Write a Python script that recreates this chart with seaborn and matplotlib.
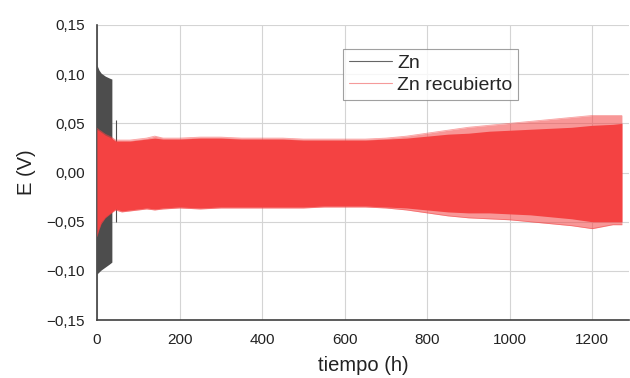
import numpy as np
import pandas as pd
import matplotlib
matplotlib.use("Agg")
import matplotlib.pyplot as plt
from matplotlib.lines import Line2D
from matplotlib.ticker import FuncFormatter
import seaborn as sns

# envelope of the Zn cell (h, V)
zn_t = [0, 5, 10, 20, 30, 36]
zn_hi = [0.109, 0.104, 0.101, 0.098, 0.096, 0.095]
zn_lo = [-0.103, -0.101, -0.099, -0.096, -0.093, -0.091]
# lone spike after the Zn cell stops
zn_spike_t = [46]
zn_spike_hi = [0.053]
zn_spike_lo = [-0.050]

# envelope of the coated Zn cell (outer = frayed edge, core = solid band)
rec_t = [0, 3, 10, 20, 35, 45, 60, 80, 100, 120, 140, 160, 200, 250, 300,
         350, 400, 450, 500, 550, 600, 650, 700, 750, 800, 850, 900, 950,
         1000, 1050, 1100, 1150, 1200, 1250, 1272]
rec_hi = [0.045, 0.044, 0.042, 0.039, 0.036, 0.033, 0.033, 0.033, 0.034,
          0.035, 0.037, 0.035, 0.035, 0.036, 0.036, 0.035, 0.035, 0.035,
          0.034, 0.034, 0.034, 0.034, 0.035, 0.037, 0.040, 0.043, 0.046,
          0.048, 0.050, 0.052, 0.054, 0.056, 0.058, 0.058, 0.058]
rec_core_hi = [0.044, 0.043, 0.041, 0.038, 0.035, 0.032, 0.032, 0.032, 0.033,
               0.034, 0.035, 0.034, 0.034, 0.035, 0.035, 0.034, 0.034, 0.034,
               0.033, 0.033, 0.033, 0.033, 0.034, 0.035, 0.037, 0.039, 0.040,
               0.042, 0.043, 0.044, 0.045, 0.046, 0.048, 0.049, 0.050]
rec_lo = [-0.065, -0.060, -0.052, -0.046, -0.041, -0.038, -0.040, -0.039,
          -0.038, -0.037, -0.038, -0.037, -0.036, -0.037, -0.036, -0.036,
          -0.036, -0.036, -0.036, -0.035, -0.035, -0.035, -0.036, -0.038,
          -0.041, -0.044, -0.046, -0.047, -0.048, -0.050, -0.052, -0.054,
          -0.057, -0.053, -0.053]
rec_core_lo = [-0.063, -0.058, -0.050, -0.045, -0.040, -0.037, -0.039, -0.038,
               -0.037, -0.036, -0.037, -0.036, -0.035, -0.036, -0.035, -0.035,
               -0.035, -0.035, -0.035, -0.034, -0.034, -0.034, -0.035, -0.036,
               -0.038, -0.040, -0.041, -0.041, -0.042, -0.043, -0.045, -0.047,
               -0.050, -0.050, -0.050]

x_ticks = [0, 200, 400, 600, 800, 1000, 1200]
y_ticks = [-0.15, -0.10, -0.05, 0.00, 0.05, 0.10, 0.15]

GREY = "#4d4d4d"
RED = "#f44242"

sns.set_theme(style="whitegrid")
plt.rcParams['font.family'] = ['Liberation Sans', 'DejaVu Sans']

fig = plt.figure(figsize=(6.3, 3.78), dpi=100)
ax = fig.add_axes([0.154, 0.153, 0.845, 0.781])

zn = pd.DataFrame({'t': zn_t, 'hi': zn_hi, 'lo': zn_lo})
rec = pd.DataFrame({'t': rec_t, 'hi': rec_hi, 'lo': rec_lo,
                    'chi': rec_core_hi, 'clo': rec_core_lo})

ax.fill_between(zn['t'], zn['lo'], zn['hi'], color=GREY, lw=0, zorder=2)
ax.vlines(zn_spike_t, zn_spike_lo, zn_spike_hi, color=GREY, lw=0.8, zorder=2)

ax.fill_between(rec['t'], rec['lo'], rec['hi'], color=RED, alpha=0.55, lw=0, zorder=3)
ax.fill_between(rec['t'], rec['clo'], rec['chi'], color=RED, lw=0, zorder=3)
sns.lineplot(data=rec, x='t', y='hi', ax=ax, color=RED, lw=0.6, alpha=0.5, zorder=3)
sns.lineplot(data=rec, x='t', y='lo', ax=ax, color=RED, lw=0.6, alpha=0.5, zorder=3)

ax.set_xlim(0, 1290)
ax.set_ylim(-0.15, 0.15)
ax.set_xticks(x_ticks)
ax.set_yticks(y_ticks)
ax.yaxis.set_major_formatter(FuncFormatter(
    lambda v, p: f"{v:.2f}".replace('.', ',').replace('-', '\u2212')))
ax.tick_params(length=0, pad=9, labelsize=11, colors="#222222")

ax.grid(True, color="#d4d4d4", lw=0.8)
ax.set_axisbelow(True)
for s in ['top', 'right']:
    ax.spines[s].set_visible(False)
for s in ['left', 'bottom']:
    ax.spines[s].set_color("#404040")
    ax.spines[s].set_linewidth(1.2)

ax.set_xlabel("tiempo (h)", fontsize=14.5, color="#222222", labelpad=7)
ax.set_ylabel("E (V)", fontsize=14.5, color="#222222", labelpad=7)

handles = [Line2D([], [], color="#666666", lw=0.8),
           Line2D([], [], color="#f59a9a", lw=0.8)]
leg = ax.legend(handles, ["Zn", "Zn recubierto"], loc='upper left',
                bbox_to_anchor=(0.462, 0.919), borderaxespad=0, fontsize=14,
                frameon=True, fancybox=False, handlelength=2.2,
                handletextpad=0.3, borderpad=0.3, labelspacing=0.2)
leg.get_frame().set_edgecolor("#888888")
leg.get_frame().set_linewidth(0.8)
leg.set_zorder(5)

fig.savefig("out.png", dpi=100)
